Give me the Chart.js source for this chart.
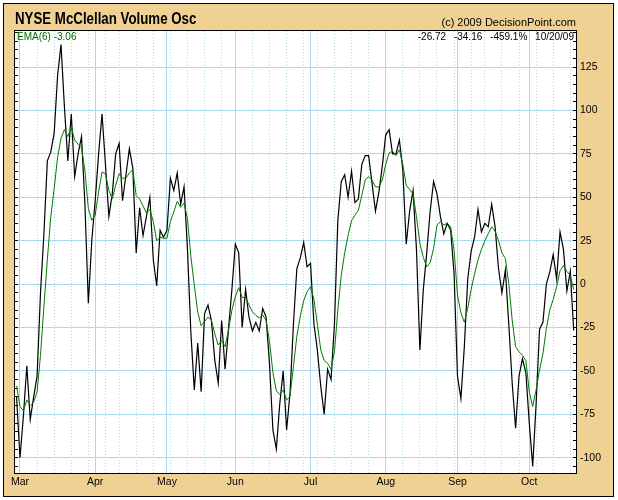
<!DOCTYPE html>
<html>
<head>
<meta charset="utf-8">
<script src="https://cdn.jsdelivr.net/npm/chart.js@4.4.0/dist/chart.umd.min.js"></script>
<style>
    html, body { margin: 0; padding: 0; background: #fff; }
    #frame {
        position: absolute; left: 3px; top: 3px; width: 611px; height: 494px;
        box-sizing: border-box; border: 1px solid #000; background: #F0D194;
    }
    #chart { position: absolute; left: 0; top: 0; }
    .txt {
        position: absolute; white-space: pre; z-index: 2;
        font-family: 'Liberation Sans', Arial, sans-serif; color: #000;
    }
    #title { left: 15px; top: 10px; font-size: 16px; font-weight: bold; transform: scaleX(0.83); transform-origin: left top; }
    #copy { right: 42px; top: 16px; font-size: 11px; }
    #ema { left: 17px; top: 31px; font-size: 10px; color: #006400; }
    #last { right: 44px; top: 31px; font-size: 10px; word-spacing: 5px; }
</style>
</head>
<body>
<div id="frame"></div>
<canvas id="chart" width="618" height="500"></canvas>
<div class="txt" id="title">NYSE McClellan Volume Osc</div>
<div class="txt" id="copy">(c) 2009 DecisionPoint.com</div>
<div class="txt" id="ema">EMA(6) -3.06</div>
<div class="txt" id="last">-26.72 -34.16 -459.1% 10/20/09</div>
<script>
// NYSE McClellan Volume Osc, daily, 2/27/09 - 10/20/09 (index = trading day)
const monthLabels = ['Mar', 'Apr', 'May', 'Jun', 'Jul', 'Aug', 'Sep', 'Oct'];
const monthStarts = [1, 23, 44, 64, 86, 108, 129, 150];
const weekStarts = [6, 11, 16, 21, 26, 30, 35, 40, 45, 50, 55, 60, 69, 74, 79, 84, 88, 93, 98, 103,
    113, 118, 123, 128, 133, 137, 142, 147, 152, 157, 162];
const yTickLabels = [-100, -75, -50, -25, 0, 25, 50, 75, 100, 125];

const oscValues = [
    -65, -100, -76, -47, -78, -65, -53, -5, 29, 71,
    76, 87, 120, 138, 102, 71, 98, 62, 75, 85,
    46, -11, 25, 48, 75, 98, 69, 39, 52, 75,
    81, 48, 63, 78, 67, 18, 44, 28, 39, 50,
    14, -1, 31, 27, 31, 61, 54, 64, 46, 56,
    20, -28, -61, -34, -62, -17, -12, -21, -44, -57,
    -21, -49, -26, -3, 23, 18, -25, -3, -19, -27,
    -22, -27, -14, -19, -46, -84, -95, -69, -50, -84,
    -63, -23, 9, 15, 24, 10, 12, -23, -38, -59,
    -75, -49, -55, -23, 37, 59, 63, 50, 65, 47,
    49, 69, 74, 74, 58, 42, 53, 68, 86, 89,
    75, 75, 83, 66, 23, 42, 54, 20, -38, -3,
    18, 42, 59, 52, 39, 29, 35, 31, 6, -53,
    -66, -36, 3, 19, 27, 43, 30, 35, 33, 46,
    33, 9, -5, 8, -23, -57, -83, -53, -43, -51,
    -80, -105, -69, -26, -22, 0, 7, 17, 3, 30,
    20, -4, 7.44, -26.72
];

const emaValues = [
    -58.6, -70.5, -73, -66.7, -70, -68, -62, -41, -13, 14,
    38.7, 55, 73, 84, 89, 85, 90.4, 83, 80.5, 78.5,
    65.5, 43.5, 36.8, 39.7, 53, 64.6, 63.6, 54, 49, 57,
    63.6, 61, 61, 64, 66, 51, 49, 45, 41, 43,
    36, 25, 27, 26.4, 26.4, 36, 41.6, 47.7, 44.4, 46.7,
    37.7, 15.7, -0.6, -16, -24, -21.6, -19, -20.7, -28.7, -35,
    -32.6, -36, -26.4, -15, -7.3, -2, -7.7, -7.7, -12, -16,
    -18, -19.5, -17.8, -21, -33, -51, -61.5, -63.6, -61, -66.7,
    -64.8, -47.5, -30, -18.4, -9.6, -4.4, -1.5, -8.8, -23, -38,
    -44, -45.6, -49, -38.9, -14.6, 5.2, 18, 28, 36.6, 39.7,
    42.5, 51, 60, 62, 60, 56, 56, 60, 69, 75.5,
    76.6, 74, 77.4, 69, 57, 54.4, 52, 38.7, 23.4, 15.3,
    10, 12.3, 20.5, 34, 36, 34, 35, 33, 19.5, -6.3,
    -16.5, -22, -14, -3, 6, 14, 20, 25, 29, 33,
    30.5, 25, 18, 14.8, 0.4, -20.7, -36, -39, -41, -44,
    -62, -70.5, -61, -49.4, -40, -25.5, -15, -8.8, -1.5, 7.7,
    10.7, 7.3, 5, -3.06
];

const xMin = -0.46, xMax = 163.67;
const yMin = -108.8, yMax = 145.8;
const gridBlue = '#A9D9EA';

Chart.defaults.font.family = "'Liberation Sans', Arial, sans-serif";

const plotFrame = {
    id: 'plotFrame',
    beforeDraw(chart) {
        const { ctx, chartArea: a } = chart;
        ctx.save();
        ctx.fillStyle = '#fff';
        ctx.fillRect(a.left, a.top, a.right - a.left, a.bottom - a.top);
        ctx.restore();
    },
    afterDraw(chart) {
        const { ctx, chartArea: a } = chart;
        ctx.save();
        ctx.strokeStyle = '#000';
        ctx.lineWidth = 1;
        ctx.strokeRect(a.left - 0.5, a.top - 0.5, a.right - a.left + 1, a.bottom - a.top + 1);
        ctx.restore();
    }
};

function everyFive(scale) {
    const t = [];
    for (let v = -105; v <= 145; v += 5) t.push({ value: v });
    scale.ticks = t;
}

new Chart(document.getElementById('chart').getContext('2d'), {
    type: 'line',
    data: {
        datasets: [{
            label: 'EMA(6)',
            data: emaValues.map((v, i) => ({ x: i, y: v })),
            borderColor: '#007A00',
            borderWidth: 1,
            pointRadius: 0,
            tension: 0
        }, {
            label: 'McClellan Volume Osc',
            data: oscValues.map((v, i) => ({ x: i, y: v })),
            borderColor: '#000',
            borderWidth: 1.2,
            pointRadius: 0,
            tension: 0
        }]
    },
    options: {
        responsive: false,
        animation: false,
        layout: { padding: { left: 15, top: 31, right: 0, bottom: 0 } },
        plugins: { legend: { display: false }, tooltip: { enabled: false } },
        scales: {
            x: {
                type: 'linear', min: xMin, max: xMax,
                afterBuildTicks: s => {
                    s.ticks = [...monthStarts, ...weekStarts].sort((a, b) => a - b).map(v => ({ value: v }));
                },
                afterFit: s => { s.height = 27; },
                grid: { color: gridBlue, lineWidth: 1, drawTicks: false },
                border: {
                    display: false,
                    dash: c => (c.tick && !monthStarts.includes(c.tick.value)) ? [1, 2] : []
                },
                ticks: {
                    autoSkip: false, maxRotation: 0, padding: 3, color: '#000',
                    font: { size: 10.5 },
                    callback: v => {
                        const k = monthStarts.indexOf(v);
                        return k >= 0 ? monthLabels[k] : '';
                    }
                }
            },
            y: {
                position: 'right', min: yMin, max: yMax,
                afterBuildTicks: everyFive,
                afterFit: s => { s.width = 42; },
                grid: {
                    color: c => (c.tick && c.tick.value % 25 === 0) ? gridBlue : 'rgba(0,0,0,0)',
                    tickColor: '#000', tickLength: -3, lineWidth: 1
                },
                border: { display: false },
                ticks: {
                    autoSkip: false, padding: 7, color: '#000',
                    font: { size: 10.5 },
                    callback: v => yTickLabels.includes(v) ? String(v) : ''
                }
            },
            yl: {
                position: 'left', min: yMin, max: yMax,
                afterBuildTicks: everyFive,
                afterFit: s => { s.width = 0; },
                grid: { drawOnChartArea: false, tickColor: '#000', tickLength: -3 },
                border: { display: false },
                ticks: { display: false }
            }
        }
    },
    plugins: [plotFrame]
});
</script>
</body>
</html>
